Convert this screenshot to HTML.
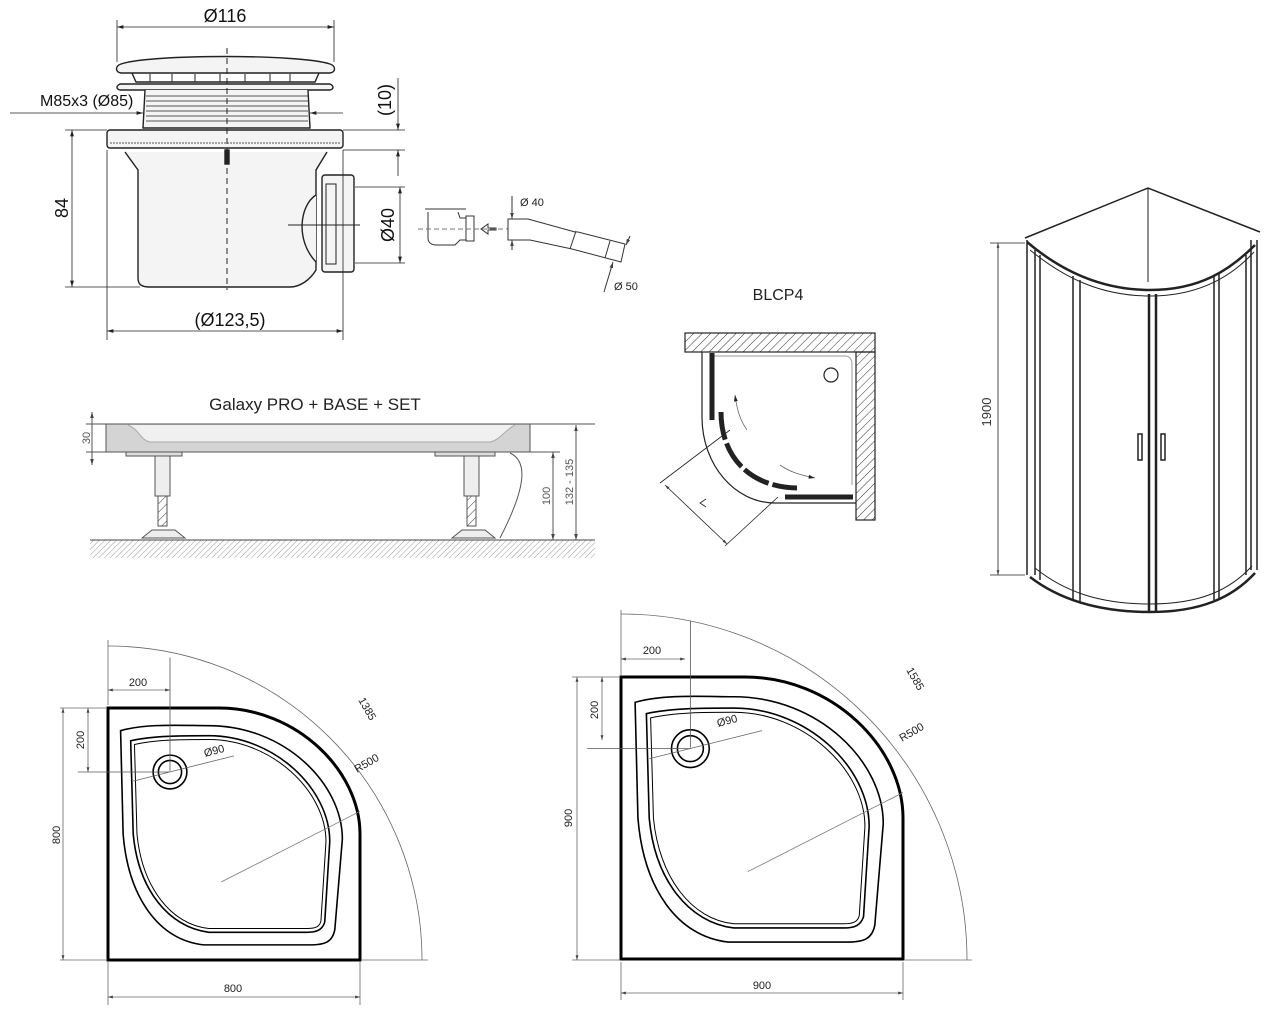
<!DOCTYPE html>
<html><head><meta charset="utf-8"><style>
html,body{margin:0;padding:0;background:#fff;}
svg{display:block;font-family:"Liberation Sans",sans-serif;}
</style></head><body>
<svg width="1275" height="1010" viewBox="0 0 1275 1010" xmlns="http://www.w3.org/2000/svg">
<defs>
<pattern id="hat" width="6" height="6" patternUnits="userSpaceOnUse" patternTransform="rotate(45)">
<line x1="0" y1="0" x2="0" y2="6" stroke="#333" stroke-width="1"/></pattern>
<pattern id="hat2" width="4" height="4" patternUnits="userSpaceOnUse" patternTransform="rotate(45)">
<line x1="0" y1="0" x2="0" y2="4" stroke="#999" stroke-width="1"/></pattern>
<marker id="ar" viewBox="0 0 10 10" refX="10" refY="5" markerWidth="8" markerHeight="8" orient="auto-start-reverse"><path d="M0,2 L10,5 L0,8 z" fill="#222"/></marker>
<marker id="ar2" viewBox="0 0 10 10" refX="10" refY="5" markerWidth="6" markerHeight="6" orient="auto-start-reverse"><path d="M0,2 L10,5 L0,8 z" fill="#444"/></marker>
<g id="plan">
<path d="M0,0 H44 C75,0 100,25 100,50 V100 H0 Z" fill="#fff" stroke="#000" stroke-width="3" vector-effect="non-scaling-stroke"/>
<path d="M5,9 C15,6 30,7 40,7 C70,7 93,30 93,52 L90,88 C89,93 86,94 80,94 L38,94 C20,92 8,75 6,50 Z" fill="none" stroke="#000" stroke-width="1.6" vector-effect="non-scaling-stroke"/>
<path d="M9,13 C18,11 30,11 40,11 C66,11 88,32 88,53 L86,85 C85,88 83,89 79,89 L40,89 C24,87 12,72 10,50 Z" fill="none" stroke="#000" stroke-width="1.6" vector-effect="non-scaling-stroke"/>
<path d="M10.5,14.5 C19,12.5 30,12.5 40,12.5 C65,12.5 86.5,33 86.5,53 L84.5,84.5 C84,87 82,87.5 79,87.5 L40,87.5 C25,86 13.5,71 11.5,50 Z" fill="none" stroke="#000" stroke-width="1" vector-effect="non-scaling-stroke"/>
<circle cx="24.6" cy="25.4" r="6.7" fill="#fff" stroke="#000" stroke-width="1.6" vector-effect="non-scaling-stroke"/>
<circle cx="24.6" cy="25.4" r="4.6" fill="none" stroke="#000" stroke-width="1.6" vector-effect="non-scaling-stroke"/>
<line x1="10" y1="29" x2="50" y2="19" stroke="#666" stroke-width="0.8" vector-effect="non-scaling-stroke"/>
<line x1="45" y1="69" x2="100" y2="41" stroke="#777" stroke-width="0.8" vector-effect="non-scaling-stroke"/>
<line x1="24.6" y1="-20" x2="24.6" y2="25" stroke="#555" stroke-width="0.8" vector-effect="non-scaling-stroke"/>
<line x1="-12" y1="25.4" x2="24.6" y2="25.4" stroke="#555" stroke-width="0.8" vector-effect="non-scaling-stroke"/>
</g>
</defs>

<!-- ===== DRAIN ===== -->
<g stroke="#222" fill="none" stroke-width="1.4">
<line x1="117" y1="20" x2="117" y2="62" stroke-width="0.8"/>
<line x1="334" y1="20" x2="334" y2="62" stroke-width="0.8"/>
<line x1="117" y1="27" x2="334" y2="27" marker-start="url(#ar)" marker-end="url(#ar)" stroke-width="0.8"/>
<path d="M121,64 C150,54 300,54 330,64 C336,66 336,72 330,73 H121 C115,72 115,66 121,64 Z" fill="#f4f4f4"/>
<path d="M132,73 L136,82 H315 L319,73" />
<path d="M150,74 v8 M172,74 v8 M195,74 v8 M220,74 v8 M245,74 v8 M270,74 v8 M290,74 v8" stroke-width="1"/>
<path d="M120,84 H330 C334,86 334,89 330,90 H120 C116,89 116,86 120,84 Z" fill="#f4f4f4"/>
<path d="M145,90 L143,128 H310 L308,90" fill="#f4f4f4"/>
<path d="M146,96 H308 M146,101 H308 M146,106 H308 M146,111 H308 M146,116 H308 M146,121 H308" stroke-width="0.7"/>
<line x1="10" y1="113" x2="143" y2="113" stroke-width="0.8" marker-end="url(#ar)"/>
<line x1="343" y1="113" x2="310" y2="113" stroke-width="0.8" marker-end="url(#ar)"/>
<rect x="107" y="130" width="236" height="18" rx="3" fill="#f4f4f4"/>
<line x1="110" y1="143" x2="340" y2="143" stroke-width="0.7" stroke-dasharray="2 1"/>
<path d="M125,152 L138,170 V278 C138,285 142,287 150,287 H290 C300,287 310,280 316,270 V170 L327,152" fill="#f4f4f4"/>
<path d="M316,195 C300,205 295,240 316,262" fill="#f4f4f4"/>
<rect x="322" y="175" width="32" height="97" rx="3" fill="#f4f4f4"/>
<rect x="326" y="184" width="10" height="80" stroke-width="1"/>
<line x1="227" y1="48" x2="227" y2="290" stroke-dasharray="6 4" stroke-width="1"/>
<rect x="225" y="150" width="4" height="14" fill="#222"/>
<line x1="288" y1="225" x2="360" y2="225" stroke-width="1"/>
<line x1="65" y1="130" x2="107" y2="130" stroke-width="0.8"/>
<line x1="65" y1="287" x2="140" y2="287" stroke-width="0.8"/>
<line x1="72" y1="130" x2="72" y2="287" stroke-width="0.8" marker-start="url(#ar)" marker-end="url(#ar)"/>
<line x1="343" y1="130" x2="405" y2="130" stroke-width="0.8"/>
<line x1="343" y1="150" x2="405" y2="150" stroke-width="0.8"/>
<line x1="398" y1="78" x2="398" y2="130" stroke-width="0.8" marker-end="url(#ar)"/>
<line x1="398" y1="176" x2="398" y2="150" stroke-width="0.8" marker-end="url(#ar)"/>
<line x1="355" y1="187" x2="405" y2="187" stroke-width="0.8"/>
<line x1="355" y1="263" x2="405" y2="263" stroke-width="0.8"/>
<line x1="400" y1="187" x2="400" y2="263" stroke-width="0.8" marker-start="url(#ar)" marker-end="url(#ar)"/>
<line x1="107" y1="150" x2="107" y2="340" stroke-width="0.8"/>
<line x1="343" y1="150" x2="343" y2="340" stroke-width="0.8"/>
<line x1="107" y1="331" x2="343" y2="331" stroke-width="0.8" marker-start="url(#ar)" marker-end="url(#ar)"/>
</g>
<g fill="#111" font-size="18">
<text x="225" y="22" text-anchor="middle">Ø116</text>
<text x="40" y="106" font-size="16">M85x3 (Ø85)</text>
<text transform="translate(391,100) rotate(-90)" text-anchor="middle">(10)</text>
<text transform="translate(68,208) rotate(-90)" text-anchor="middle">84</text>
<text transform="translate(394,225) rotate(-90)" text-anchor="middle">Ø40</text>
<text x="230" y="326" text-anchor="middle">(Ø123,5)</text>
</g>

<!-- small pipe -->
<g stroke="#333" fill="none" stroke-width="1">
<path d="M425,209 H466 M428,212 V238 C428,243 432,245 436,245 H455 L460,240 H468 V218 H460 L458,212" fill="#fff"/>
<rect x="466" y="216" width="8" height="25" fill="#fff"/>
<path d="M496,228 H488 V224 L481,229 L488,234 V230 H496 Z"/>
<line x1="418" y1="229" x2="545" y2="229" stroke-dasharray="5 3" stroke="#777"/>
<path d="M508,219 H528 L575,232 L578,232 L625,244 L621,262 L572,249 L530,240 H508 Z" fill="#fff"/>
<line x1="576" y1="231" x2="570" y2="249"/>
<line x1="610" y1="241" x2="605" y2="258"/>
<line x1="512" y1="196" x2="512" y2="219" marker-end="url(#ar2)"/>
<line x1="512" y1="250" x2="512" y2="240" marker-end="url(#ar2)"/>
<line x1="604" y1="292" x2="613" y2="262" marker-end="url(#ar2)"/>
<line x1="630" y1="236" x2="626" y2="245" marker-end="url(#ar2)"/>
</g>
<text x="520" y="206" font-size="11" fill="#222">Ø 40</text>
<text x="614" y="290" font-size="11" fill="#222">Ø 50</text>

<!-- ===== GALAXY PRO ===== -->
<text x="315" y="410" font-size="17" fill="#222" text-anchor="middle">Galaxy PRO + BASE + SET</text>
<g stroke="#555" stroke-width="1">
<rect x="106" y="424" width="424" height="28" fill="#d4d4d4"/>
<path d="M128,425 C140,430 140,440 150,442 H490 C500,440 505,430 515,425" fill="#f0f0f0" stroke="#aaa"/>
<rect x="126" y="452" width="56" height="4" fill="#ddd"/>
<rect x="435" y="452" width="60" height="4" fill="#ddd"/>
<rect x="155" y="456" width="15" height="40" fill="#eee"/>
<rect x="464" y="456" width="15" height="40" fill="#eee"/>
<rect x="158" y="496" width="9" height="30" fill="url(#hat)"/>
<rect x="467" y="496" width="9" height="30" fill="url(#hat)"/>
<path d="M142,538 L152,530 H175 L185,538 Z" fill="#eee"/>
<path d="M452,538 L462,530 H485 L495,538 Z" fill="#eee"/>
<path d="M510,453 C525,460 530,480 500,538" fill="none"/>
<rect x="90" y="540" width="505" height="18" fill="url(#hat2)" stroke="none"/>
<line x1="90" y1="540" x2="595" y2="540" stroke="#444"/>
<line x1="86" y1="424" x2="110" y2="424"/><line x1="86" y1="452" x2="110" y2="452"/>
<line x1="92" y1="412" x2="92" y2="465" marker-start="url(#ar2)" marker-end="url(#ar2)"/>
<line x1="530" y1="424" x2="595" y2="424"/><line x1="530" y1="452" x2="560" y2="452"/>
<line x1="553" y1="452" x2="553" y2="540" marker-start="url(#ar2)" marker-end="url(#ar2)"/>
<line x1="576" y1="425" x2="576" y2="540" marker-start="url(#ar2)" marker-end="url(#ar2)"/>
</g>
<g font-size="11" fill="#555">
<text transform="translate(90,438) rotate(-90)" text-anchor="middle">30</text>
<text transform="translate(550,496) rotate(-90)" text-anchor="middle">100</text>
<text transform="translate(573,482) rotate(-90)" text-anchor="middle">132 - 135</text>
</g>

<!-- ===== BLCP4 ===== -->
<text x="778" y="300" font-size="16" fill="#222" text-anchor="middle">BLCP4</text>
<g stroke="#222" stroke-width="1.2">
<rect x="685" y="333" width="190" height="19" fill="url(#hat)"/>
<rect x="856" y="352" width="19" height="168" fill="url(#hat)"/>
<path d="M702,352 V417 C702,465 735,503 775,503 H856" fill="none"/>
<path d="M710,356 H845 C850,356 852,360 852,365 V485" fill="none" stroke="#aaa"/>
<circle cx="831" cy="375" r="7" fill="#fff"/>
<line x1="712" y1="353" x2="712" y2="420" stroke-width="5"/>
<path d="M721,412 C721,455 748,487 797,488" fill="none" stroke-width="5" stroke-dasharray="28 4"/>
<line x1="785" y1="497" x2="853" y2="497" stroke-width="5"/>
<path d="M747,430 C740,420 737,410 735,395" fill="none" stroke-width="0.8" stroke="#666" marker-end="url(#ar)"/>
<path d="M780,465 C790,472 800,475 815,478" fill="none" stroke-width="0.8" stroke="#666" marker-end="url(#ar)"/>
<line x1="660" y1="483" x2="730" y2="430" stroke-width="0.8"/>
<line x1="725" y1="546" x2="778" y2="497" stroke-width="0.8"/>
<line x1="665" y1="485" x2="727" y2="544" stroke-width="0.8" marker-start="url(#ar2)" marker-end="url(#ar2)"/>
<path d="M706,499 L700,503 L706,507" fill="none" stroke-width="0.8"/>
</g>

<!-- ===== CABIN ===== -->
<g stroke="#222" fill="none" stroke-width="1.5">
<path d="M1025,238 L1148,188 L1260,232"/>
<line x1="1148" y1="188" x2="1148" y2="282" stroke-width="1"/>
<path d="M1027,242 C1060,270 1100,290 1150,290 C1200,290 1230,270 1255,245" stroke-width="2.5"/>
<path d="M1030,250 C1063,277 1100,296 1150,296 C1200,296 1232,276 1254,252" stroke-width="1"/>
<path d="M1027,240 V575 M1035,250 V575 M1040,255 V580 M1251,240 V570 M1257,240 V570 M1246,255 V575"/>
<path d="M1073,276 V600 M1080,280 V603 M1214,276 V600 M1219,273 V598"/>
<path d="M1149,294 V612 M1156,294 V612" stroke-width="2.5"/>
<path d="M1030,577 C1060,600 1100,612 1150,612 C1200,612 1232,598 1255,573" stroke-width="2.5"/>
<path d="M1035,568 C1065,592 1100,604 1150,604 C1200,604 1230,590 1252,566" stroke-width="1"/>
<rect x="1138" y="434" width="4" height="26" stroke-width="1.5"/>
<rect x="1161" y="434" width="4" height="26" stroke-width="1.5"/>
<line x1="990" y1="243" x2="1025" y2="243" stroke-width="0.8"/>
<line x1="990" y1="575" x2="1025" y2="575" stroke-width="0.8"/>
<line x1="998" y1="243" x2="998" y2="575" stroke-width="0.8" marker-start="url(#ar2)" marker-end="url(#ar2)"/>
</g>
<text transform="translate(991,412) rotate(-90)" font-size="13" fill="#333" text-anchor="middle">1900</text>

<!-- ===== LEFT PLAN 800 ===== -->
<use href="#plan" transform="translate(108,708) scale(2.52)"/>
<g stroke="#666" stroke-width="0.8" fill="none">
<path d="M108,646 A314,314 0 0 1 422,960"/>
<line x1="108" y1="640" x2="108" y2="705"/>
<line x1="108" y1="690" x2="170" y2="690" marker-start="url(#ar2)" marker-end="url(#ar2)"/>
<line x1="88" y1="708" x2="88" y2="772" marker-start="url(#ar2)" marker-end="url(#ar2)"/>
<line x1="60" y1="708" x2="106" y2="708"/>
<line x1="63" y1="708" x2="63" y2="960" marker-start="url(#ar2)" marker-end="url(#ar2)"/>
<line x1="60" y1="960" x2="106" y2="960"/>
<line x1="362" y1="960" x2="428" y2="960"/>
<line x1="108" y1="962" x2="108" y2="1005"/><line x1="360" y1="962" x2="360" y2="1005"/>
<line x1="108" y1="997" x2="360" y2="997" marker-start="url(#ar2)" marker-end="url(#ar2)"/>
</g>
<g font-size="11" fill="#222">
<text x="138" y="686" text-anchor="middle">200</text>
<text transform="translate(84,740) rotate(-90)" text-anchor="middle">200</text>
<text transform="translate(60,835) rotate(-90)" text-anchor="middle">800</text>
<text x="233" y="992" text-anchor="middle">800</text>
<text x="205" y="757" transform="rotate(-15 205 757)">Ø90</text>
<text x="357" y="773" transform="rotate(-30 357 773)">R500</text>
<text x="358" y="700" transform="rotate(60 358 700)">1385</text>
</g>

<!-- ===== RIGHT PLAN 900 ===== -->
<use href="#plan" transform="translate(621,677) scale(2.82)"/>
<g stroke="#666" stroke-width="0.8" fill="none">
<path d="M621,614 A346,346 0 0 1 967,960"/>
<line x1="621" y1="610" x2="621" y2="675"/>
<line x1="621" y1="659" x2="685" y2="659" marker-start="url(#ar2)" marker-end="url(#ar2)"/>
<line x1="602" y1="677" x2="602" y2="740" marker-start="url(#ar2)" marker-end="url(#ar2)"/>
<line x1="572" y1="677" x2="619" y2="677"/>
<line x1="577" y1="677" x2="577" y2="960" marker-start="url(#ar2)" marker-end="url(#ar2)"/>
<line x1="572" y1="960" x2="619" y2="960"/>
<line x1="905" y1="960" x2="972" y2="960"/>
<line x1="621" y1="962" x2="621" y2="1000"/><line x1="903" y1="962" x2="903" y2="1000"/>
<line x1="621" y1="993" x2="903" y2="993" marker-start="url(#ar2)" marker-end="url(#ar2)"/>
</g>
<g font-size="11" fill="#222">
<text x="652" y="654" text-anchor="middle">200</text>
<text transform="translate(598,710) rotate(-90)" text-anchor="middle">200</text>
<text transform="translate(572,818) rotate(-90)" text-anchor="middle">900</text>
<text x="762" y="989" text-anchor="middle">900</text>
<text x="718" y="727" transform="rotate(-15 718 727)">Ø90</text>
<text x="902" y="742" transform="rotate(-30 902 742)">R500</text>
<text x="906" y="670" transform="rotate(60 906 670)">1585</text>
</g>
</svg>
</body></html>
